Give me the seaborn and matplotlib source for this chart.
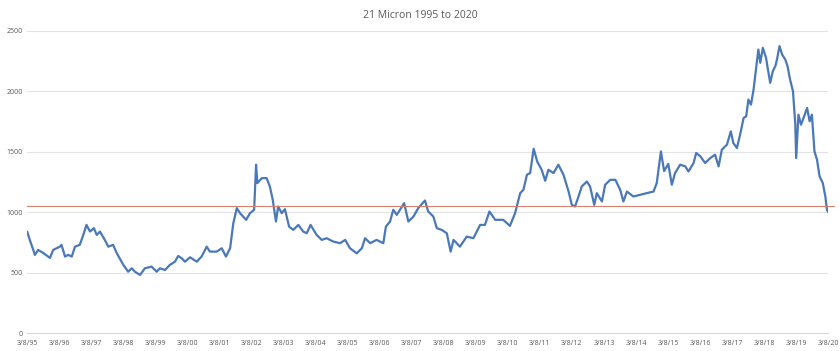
import matplotlib
matplotlib.use("Agg")
import matplotlib.pyplot as plt
import seaborn as sns
import pandas as pd

years = [
    1995.19, 1995.27, 1995.38, 1995.43, 1995.53, 1995.69, 1995.90, 1996.00, 1996.21, 1996.26,
    1996.37, 1996.47, 1996.58, 1996.68, 1996.83, 1996.94, 1997.04, 1997.15, 1997.27, 1997.36,
    1997.46, 1997.61, 1997.72, 1997.87, 1997.98, 1998.19, 1998.34, 1998.45, 1998.55, 1998.71,
    1998.86, 1999.07, 1999.23, 1999.33, 1999.49, 1999.64, 1999.80, 1999.90, 2000.01, 2000.11,
    2000.27, 2000.48, 2000.63, 2000.79, 2000.89, 2001.10, 2001.26, 2001.39, 2001.52, 2001.62,
    2001.73, 2001.83, 2002.02, 2002.14, 2002.27, 2002.33, 2002.37, 2002.51, 2002.66, 2002.76,
    2002.85, 2002.95, 2003.02, 2003.13, 2003.23, 2003.36, 2003.49, 2003.65, 2003.80, 2003.91,
    2004.03, 2004.22, 2004.38, 2004.53, 2004.74, 2004.95, 2005.11, 2005.26, 2005.47, 2005.63,
    2005.73, 2005.89, 2006.09, 2006.30, 2006.38, 2006.51, 2006.61, 2006.72, 2006.82, 2006.95,
    2007.08, 2007.24, 2007.39, 2007.60, 2007.70, 2007.86, 2007.97, 2008.12, 2008.28, 2008.40,
    2008.49, 2008.69, 2008.90, 2009.11, 2009.32, 2009.47, 2009.61, 2009.79, 2010.04, 2010.25,
    2010.41, 2010.57, 2010.67, 2010.78, 2010.88, 2010.99, 2011.10, 2011.24, 2011.35, 2011.45,
    2011.61, 2011.76, 2011.92, 2012.08, 2012.18, 2012.28, 2012.39, 2012.49, 2012.65, 2012.75,
    2012.88, 2012.96, 2013.12, 2013.22, 2013.38, 2013.54, 2013.69, 2013.79, 2013.90, 2014.10,
    2014.31, 2014.52, 2014.73, 2014.83, 2014.96, 2015.06, 2015.19, 2015.30, 2015.40, 2015.56,
    2015.72, 2015.82, 2015.98, 2016.06, 2016.19, 2016.34, 2016.50, 2016.65, 2016.76, 2016.86,
    2017.02, 2017.14, 2017.22, 2017.33, 2017.43, 2017.54, 2017.62, 2017.69, 2017.77, 2017.85,
    2017.95, 2018.00, 2018.06, 2018.14, 2018.24, 2018.29, 2018.37, 2018.45, 2018.53, 2018.58,
    2018.66, 2018.74, 2018.84, 2018.91, 2018.99, 2019.08, 2019.15, 2019.18, 2019.25, 2019.33,
    2019.41, 2019.52, 2019.60, 2019.67, 2019.75, 2019.83, 2019.91, 2020.01, 2020.09, 2020.14,
    2020.18,
]
prices = [
    840, 771, 688, 647, 688, 663, 622, 688, 715, 730,
    633, 647, 633, 715, 730, 812, 895, 840, 868, 812,
    840, 771, 715, 730, 663, 564, 508, 536, 508, 481,
    536, 550, 508, 536, 522, 564, 591, 638, 619, 591,
    627, 591, 633, 715, 674, 674, 702, 633, 702, 909,
    1034, 992, 937, 992, 1020, 1393, 1241, 1282, 1282, 1213,
    1103, 923, 1047, 992, 1025, 881, 854, 895, 840, 826,
    895, 812, 771, 785, 757, 744, 771, 702, 660, 702,
    785, 744, 771, 744, 881, 923, 1020, 978, 1020, 1075,
    923, 964, 1034, 1097, 1006, 964, 868, 854, 826, 674,
    771, 715, 798, 785, 895, 895, 1006, 937, 937, 887,
    992, 1158, 1185, 1310, 1324, 1525, 1420, 1351, 1260, 1351,
    1324, 1393, 1310, 1171, 1061, 1047, 1130, 1213, 1254, 1213,
    1061, 1158, 1089, 1227, 1268, 1268, 1185, 1089, 1171, 1130,
    1144, 1158, 1171, 1241, 1503, 1340, 1400, 1227, 1324, 1393,
    1379, 1337, 1407, 1490, 1462, 1407, 1448, 1476, 1379, 1517,
    1559, 1669, 1572, 1531, 1641, 1780, 1793, 1932, 1890, 2014,
    2236, 2346, 2236, 2360, 2277, 2194, 2070, 2166, 2208, 2263,
    2374, 2305, 2263, 2208, 2097, 2000, 1738, 1448, 1807, 1724,
    1780, 1863, 1752, 1807, 1503, 1434, 1296, 1241, 1130, 1020,
    1000,
]

reference_level = 1050

tick_years = [1995.18 + k for k in range(26)]
tick_labels = ["3/8/%02d" % ((95 + k) % 100) for k in range(26)]
y_ticks = [0, 500, 1000, 1500, 2000, 2500]

df = pd.DataFrame({"year": years, "price": prices})

sns.set_style("white")
plt.rcParams["font.family"] = ["Open Sans", "DejaVu Sans"]

fig = plt.figure(figsize=(8.4, 3.51), dpi=100)
ax = fig.add_axes([0.032, 0.051, 0.954, 0.861])

sns.lineplot(data=df, x="year", y="price", ax=ax, color="#4a78b8", linewidth=1.6)
ax.axhline(reference_level, xmin=0, xmax=1.007, color="#d4806c", linewidth=0.8, clip_on=False)

ax.set_xlim(1995.18, 2020.18)
ax.set_ylim(0, 2500)
ax.set_yticks(y_ticks)
ax.set_yticklabels([str(v) for v in y_ticks])
ax.set_xticks(tick_years)
ax.set_xticklabels(tick_labels)
ax.grid(axis="y", color="#e3e3e3", linewidth=0.8)
ax.set_axisbelow(True)
for s in ["top", "right", "left"]:
    ax.spines[s].set_visible(False)
ax.spines["bottom"].set_color("#d9d9d9")
ax.tick_params(axis="both", labelsize=5, colors="#595959", length=0, pad=3)
ax.tick_params(axis="x", length=2, color="#d9d9d9", pad=3)
ax.set_xlabel("")
ax.set_ylabel("")

fig.text(0.5, 0.957, "21 Micron 1995 to 2020", ha="center", va="center",
         fontsize=7.5, color="#595959")

fig.savefig("out.png", dpi=100, facecolor="white")
